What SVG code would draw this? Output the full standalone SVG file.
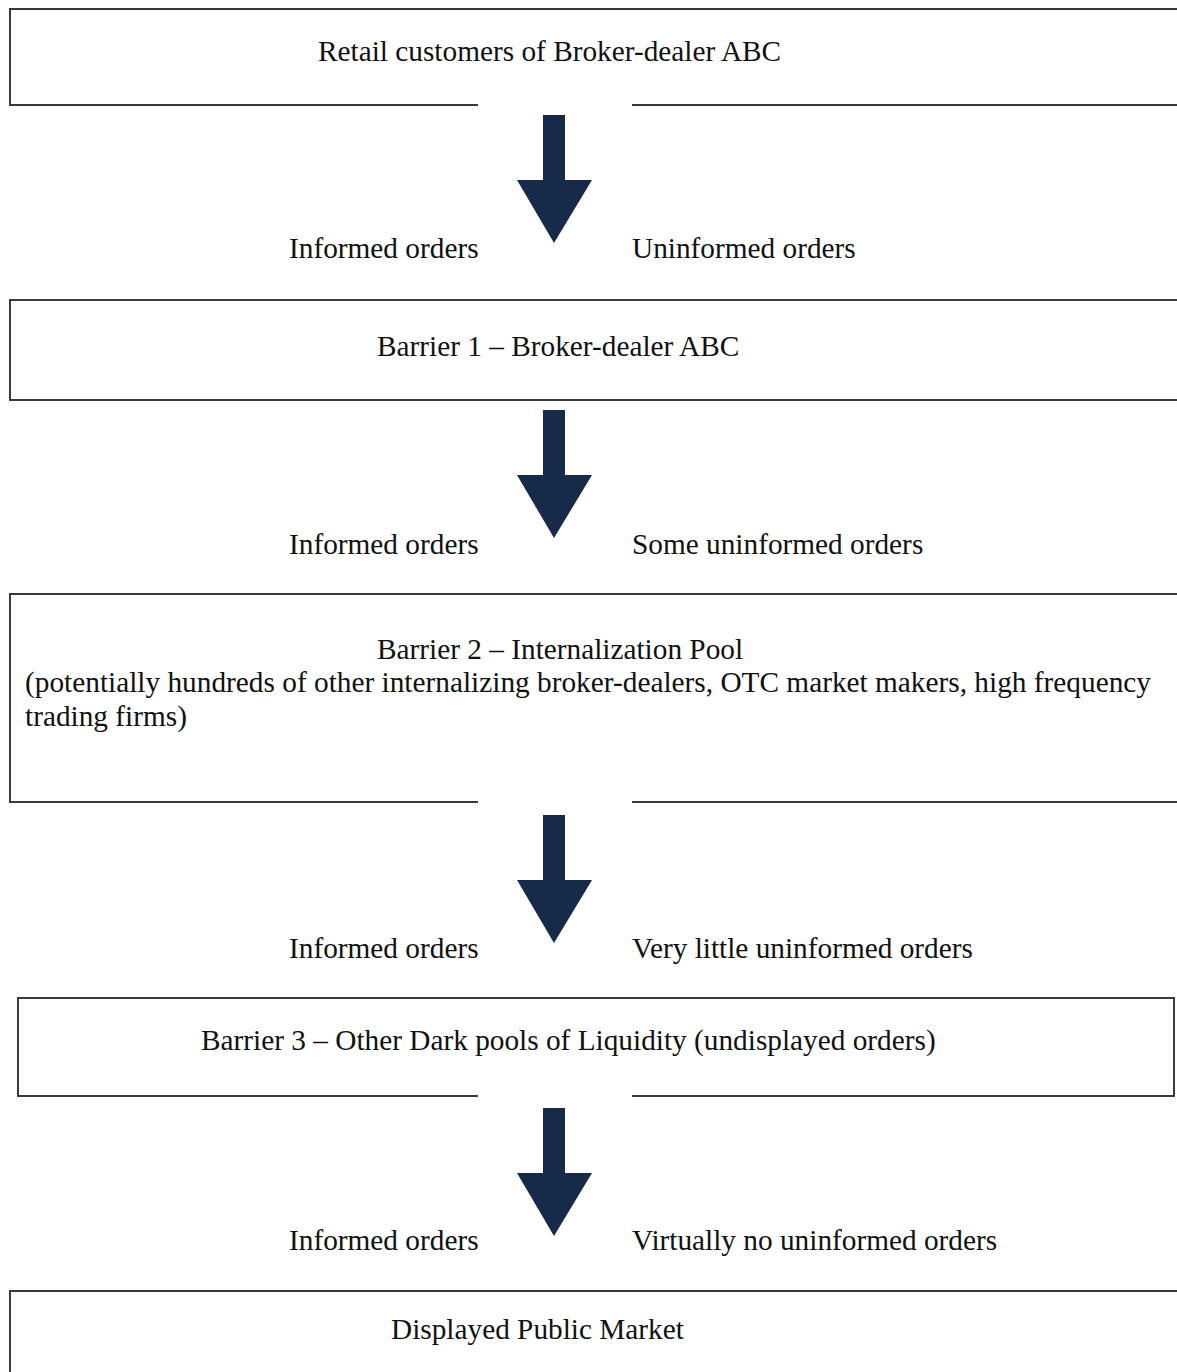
<svg xmlns="http://www.w3.org/2000/svg" width="1177" height="1372" viewBox="0 0 1177 1372">
<style>
.box{fill:none;stroke:#3a3a3a;stroke-width:2}
.t{font-family:"Liberation Serif","Times New Roman",serif;font-size:29.3px;fill:#111}
.arr{fill:#172a4a}
</style>
<defs>
<path id="arrow" class="arr" d="M543,0 H565 V65 H592 L554,128 L517,65 H543 Z"/>
</defs>
<rect width="1177" height="1372" fill="#fff"/>
<g id="node-retail">
<path class="box" d="M478,105 H10 V9 H1180 M632,105 H1180"/>
<text class="t" x="318" y="61">Retail customers of Broker-dealer ABC</text>
</g>
<g id="node-barrier1">
<path class="box" d="M1180,300 H10 V400 H1180"/>
<text class="t" x="377" y="356">Barrier 1 – Broker-dealer ABC</text>
</g>
<g id="node-barrier2">
<path class="box" d="M478,802 H10 V594 H1180 M632,802 H1180"/>
<text class="t" x="377" y="659">Barrier 2 – Internalization Pool</text>
<text class="t" x="25" y="692" textLength="1126" lengthAdjust="spacingAndGlyphs">(potentially hundreds of other internalizing broker-dealers, OTC market makers, high frequency</text>
<text class="t" x="25" y="726">trading firms)</text>
</g>
<g id="node-barrier3">
<path class="box" d="M478,1096 H18 V998 H1174 V1096 H632"/>
<text class="t" x="201" y="1050">Barrier 3 – Other Dark pools of Liquidity (undisplayed orders)</text>
</g>
<g id="node-public">
<path class="box" d="M10,1380 V1291 H1180"/>
<text class="t" x="391" y="1339">Displayed Public Market</text>
</g>
<g id="connectors">
<use href="#arrow" y="115"/>
<use href="#arrow" y="410"/>
<use href="#arrow" y="815"/>
<use href="#arrow" y="1108"/>
<text class="t" x="289" y="258">Informed orders</text>
<text class="t" x="632" y="258">Uninformed orders</text>
<text class="t" x="289" y="554">Informed orders</text>
<text class="t" x="632" y="554">Some uninformed orders</text>
<text class="t" x="289" y="958">Informed orders</text>
<text class="t" x="632" y="958">Very little uninformed orders</text>
<text class="t" x="289" y="1250">Informed orders</text>
<text class="t" x="632" y="1250">Virtually no uninformed orders</text>
</g>
</svg>
